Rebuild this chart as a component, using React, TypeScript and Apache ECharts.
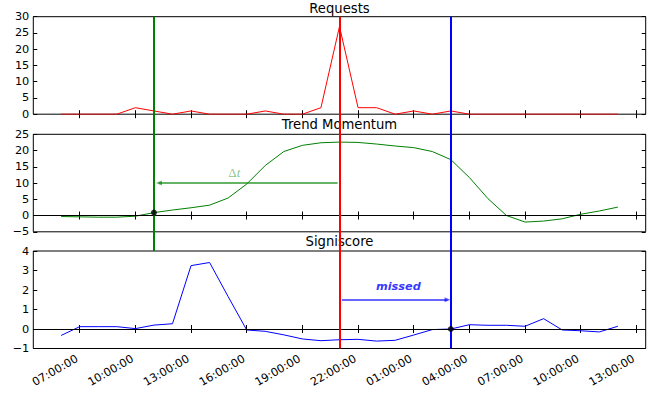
import React, { useEffect, useRef } from 'react';
import * as echarts from 'echarts';

// ---- data (hours since day-1 00:00) ----
const HOURS = [6, 7, 8, 9, 10, 11, 12, 13, 14, 15, 16, 17, 18, 19, 20, 21, 22, 23, 24, 25, 26, 27, 28, 29, 30, 31, 32, 33, 34, 35, 36];
const REQUESTS = [0, 0, 0, 0, 2, 1, 0, 1, 0, 0, 0, 1, 0, 0, 2, 27, 2, 2, 0, 1, 0, 1, 0, 0, 0, 0, 0, 0, 0, 0, 0];
const TREND = [-0.3, -0.4, -0.5, -0.5, -0.2, 0.9, 1.7, 2.4, 3.2, 5.4, 9.7, 15.4, 19.7, 21.6, 22.4, 22.6, 22.5, 22.0, 21.4, 20.9, 19.7, 17.2, 11.7, 5.2, 0.0, -2.0, -1.7, -1.0, 0.4, 1.4, 2.6];
const SIGNI = [-0.33, 0.12, 0.12, 0.12, 0.02, 0.2, 0.27, 3.25, 3.41, 1.66, -0.05, -0.12, -0.3, -0.51, -0.6, -0.55, -0.53, -0.62, -0.58, -0.31, -0.03, 0.0, 0.22, 0.19, 0.19, 0.14, 0.53, -0.05, -0.09, -0.15, 0.14];

const TICK_HOURS = [7, 10, 13, 16, 19, 22, 25, 28, 31, 34, 37];
const TICK_LABELS = ['07:00:00', '10:00:00', '13:00:00', '16:00:00', '19:00:00', '22:00:00', '01:00:00', '04:00:00', '07:00:00', '10:00:00', '13:00:00'];
const X_MIN = 4.5;
const X_MAX = 37.5;

const TITLES = ['Requests', 'Trend Momentum', 'Signiscore'];
const Y_RANGES = [
  { min: 0, max: 30, interval: 5 },
  { min: -5, max: 25, interval: 5 },
  { min: -1, max: 4, interval: 1 },
];

// events
const DETECT_HOUR = 11; // green
const PEAK_HOUR = 21; // red
const MISSED_HOUR = 27; // blue (03:00 next day)

// annotations (data coordinates)
const DT_ARROW = { from: [20.9, 10], to: [11.27, 10] };
const DT_LABEL = [15.33, 13.3];
const MISSED_ARROW = { from: [21.13, 1.5], to: [26.82, 1.5] };
const MISSED_LABEL = [24.17, 2.2];

// ---- layout ----
const FONT = '"DejaVu Sans", sans-serif';
const GRID_LEFT = 33.3;
const GRID_WIDTH = 612.4;
const GRID_TOPS = [16.7, 134.3, 251];
const GRID_H = 97.5;
const TITLE_Y = [8.3, 124.9, 241.5];

const fmtNum = (v: number) => (v < 0 ? '\u2212' + Math.abs(v) : String(v));
const fmtTime = (v: number) => {
  const i = TICK_HOURS.indexOf(Math.round(v));
  return i >= 0 ? TICK_LABELS[i] : '';
};

function buildOption() {
  const grids: any[] = GRID_TOPS.map((t) => ({
    left: GRID_LEFT,
    top: t,
    width: GRID_WIDTH,
    height: GRID_H,
    show: true,
    borderColor: '#000',
    borderWidth: 1,
    backgroundColor: 'transparent',
  }));
  // overlay grids for figure-spanning vertical lines
  grids.push({ left: GRID_LEFT, top: GRID_TOPS[0], width: GRID_WIDTH, height: GRID_TOPS[2] + GRID_H - GRID_TOPS[0], show: false });
  grids.push({ left: GRID_LEFT, top: GRID_TOPS[0], width: GRID_WIDTH, height: GRID_TOPS[2] - GRID_TOPS[0], show: false });

  const xAxis: any[] = [];
  const yAxis: any[] = [];
  for (let g = 0; g < 3; g++) {
    for (const pos of ['bottom', 'top']) {
      xAxis.push({
        type: 'value',
        gridIndex: g,
        position: pos,
        min: X_MIN,
        max: X_MAX,
        axisLine: { show: false },
        splitLine: { show: false },
        axisTick: { show: true, inside: true, length: 4, customValues: TICK_HOURS, lineStyle: { color: '#000', width: 1 } },
        axisLabel: {
          show: g === 2 && pos === 'bottom',
          customValues: TICK_HOURS,
          formatter: fmtTime,
          rotate: 30,
          fontSize: 11.3,
          fontFamily: FONT,
          color: '#000',
          margin: 8,
          padding: [0, 3, 0, 0],
        },
      });
    }
    for (const pos of ['left', 'right']) {
      yAxis.push({
        type: 'value',
        gridIndex: g,
        position: pos,
        min: Y_RANGES[g].min,
        max: Y_RANGES[g].max,
        interval: Y_RANGES[g].interval,
        axisLine: { show: false },
        splitLine: { show: false },
        axisTick: { show: true, inside: true, length: 4, lineStyle: { color: '#000', width: 1 } },
        axisLabel: {
          show: pos === 'left',
          formatter: fmtNum,
          fontSize: 11.3,
          fontFamily: FONT,
          color: '#000',
          margin: 4,
        },
      });
    }
  }
  // overlay axes: indices 6 (full height) and 7 (top two panels)
  for (const g of [3, 4]) {
    xAxis.push({ type: 'value', gridIndex: g, min: X_MIN, max: X_MAX, show: false });
    yAxis.push({ type: 'value', gridIndex: g, min: 0, max: 1, show: false });
  }

  const zeroLine = {
    silent: true,
    symbol: 'none',
    label: { show: false },
    lineStyle: { color: '#000', width: 1, type: 'solid' },
    data: [{ yAxis: 0 }],
  };

  const mkLineSeries = (g: number, values: number[], color: string, zero: boolean) => ({
    type: 'line',
    xAxisIndex: g * 2,
    yAxisIndex: g * 2,
    data: HOURS.map((h, i) => [h, values[i]]),
    symbol: 'none',
    lineStyle: { color, width: 1 },
    itemStyle: { color },
    z: 3,
    markLine: zero ? zeroLine : undefined,
  });

  const arrowSeries = (g: number, arrow: any, color: string) => ({
    type: 'line',
    xAxisIndex: g * 2,
    yAxisIndex: g * 2,
    data: [],
    z: 4,
    markLine: {
      silent: true,
      symbol: ['none', 'triangle'],
      symbolSize: [5, 6],
      label: { show: false },
      lineStyle: { color, width: 1.8, type: 'solid' },
      itemStyle: { color },
      data: [[{ coord: arrow.from }, { coord: arrow.to }]],
    },
  });

  const vLineSeries = (axisIndex: number, items: any[]) => ({
    type: 'line',
    xAxisIndex: axisIndex,
    yAxisIndex: axisIndex,
    data: [],
    z: 6,
    markLine: {
      silent: true,
      symbol: 'none',
      label: { show: false },
      lineStyle: { width: 2, type: 'solid' },
      data: items,
    },
  });

  const dotSeries = (g: number, x: number, y: number) => ({
    type: 'scatter',
    xAxisIndex: g * 2,
    yAxisIndex: g * 2,
    data: [[x, y]],
    symbol: 'circle',
    symbolSize: 6,
    itemStyle: { color: '#000' },
    z: 10,
  });

  const textSeries = (g: number, pos: number[], label: any) => ({
    type: 'scatter',
    xAxisIndex: g * 2,
    yAxisIndex: g * 2,
    data: [pos],
    symbol: 'circle',
    symbolSize: 1,
    itemStyle: { color: 'transparent' },
    z: 8,
    label: { show: true, position: 'inside', ...label },
  });

  const series: any[] = [
    mkLineSeries(0, REQUESTS, '#ff0000', false),
    mkLineSeries(1, TREND, '#008000', true),
    mkLineSeries(2, SIGNI, '#0000ff', true),
    arrowSeries(1, DT_ARROW, 'rgba(0,128,0,0.6)'),
    arrowSeries(2, MISSED_ARROW, 'rgba(0,0,255,0.6)'),
    vLineSeries(6, [
      { xAxis: PEAK_HOUR, lineStyle: { color: '#ff0000' } },
      { xAxis: MISSED_HOUR, lineStyle: { color: '#0000ff' } },
    ]),
    vLineSeries(7, [{ xAxis: DETECT_HOUR, lineStyle: { color: '#008000' } }]),
    dotSeries(1, DETECT_HOUR, TREND[HOURS.indexOf(DETECT_HOUR)]),
    dotSeries(2, MISSED_HOUR, SIGNI[HOURS.indexOf(MISSED_HOUR)]),
    textSeries(1, DT_LABEL, {
      formatter: '{d|\u0394}{t|t}',
      rich: {
        d: { fontFamily: '"Liberation Serif", serif', fontSize: 13, color: 'rgba(0,128,0,0.6)' },
        t: { fontFamily: '"Liberation Serif", serif', fontSize: 13, fontStyle: 'italic', color: 'rgba(0,128,0,0.6)' },
      },
    }),
    textSeries(2, MISSED_LABEL, {
      formatter: 'missed',
      fontFamily: FONT,
      fontSize: 11.3,
      fontStyle: 'italic',
      fontWeight: 'bold',
      color: '#0000ff',
    }),
  ];

  const graphic = TITLES.map((t, i) => ({
    type: 'text',
    x: GRID_LEFT + GRID_WIDTH / 2,
    y: TITLE_Y[i],
    style: {
      text: t,
      align: 'center',
      verticalAlign: 'middle',
      fontFamily: FONT,
      fontSize: 13.2,
      fill: '#000',
    },
  }));

  return {
    animation: false,
    backgroundColor: '#fff',
    grid: grids,
    xAxis,
    yAxis,
    series,
    graphic,
  };
}

export default function App() {
  const ref = useRef<HTMLDivElement>(null);
  useEffect(() => {
    if (!ref.current) return;
    const chart = echarts.init(ref.current, undefined, { renderer: 'svg' });
    chart.setOption(buildOption() as any);
    return () => chart.dispose();
  }, []);
  return <div ref={ref} style={{ position: 'absolute', left: 0, top: 0, width: 665, height: 393 }} />;
}
